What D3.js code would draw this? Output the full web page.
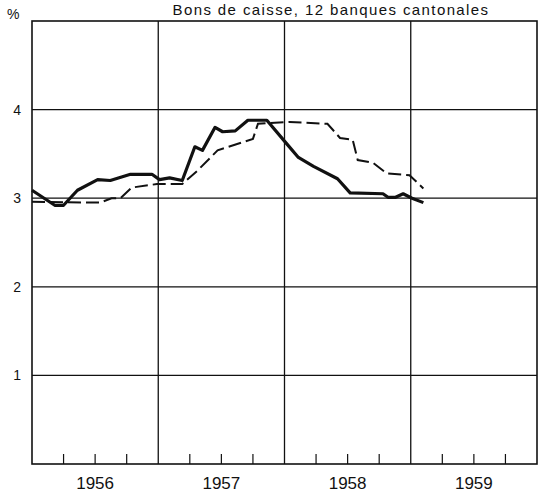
<!DOCTYPE html>
<html>
<head>
<meta charset="utf-8">
<script src="https://cdn.jsdelivr.net/npm/d3@7"></script>
<style>
  body { margin: 0; background: #fff; }
  text { font-family: "Liberation Sans", Arial, sans-serif; fill: #111; }
</style>
</head>
<body>
<div id="chart"></div>
<script>
// dates as decimal years, values in %
var solidDates = [1956.00, 1956.18, 1956.25, 1956.36, 1956.52, 1956.62, 1956.78, 1956.95,
                  1957.01, 1957.09, 1957.19, 1957.29, 1957.35, 1957.45, 1957.51, 1957.61,
                  1957.71, 1957.86, 1958.02, 1958.11, 1958.23, 1958.42, 1958.52, 1958.78,
                  1958.82, 1958.88, 1958.94, 1959.01, 1959.10];
var solidValues = [3.09, 2.92, 2.92, 3.09, 3.21, 3.20, 3.27, 3.27,
                   3.21, 3.23, 3.20, 3.58, 3.54, 3.80, 3.75, 3.76,
                   3.88, 3.88, 3.61, 3.46, 3.36, 3.22, 3.06, 3.05,
                   3.01, 3.01, 3.05, 3.00, 2.95];

var dashedDates = [1956.00, 1956.54, 1956.63, 1956.70, 1956.79, 1956.99, 1957.19, 1957.31,
                   1957.47, 1957.75, 1957.79, 1957.89, 1958.04, 1958.34, 1958.44, 1958.54,
                   1958.58, 1958.70, 1958.81, 1958.99, 1959.10];
var dashedValues = [2.96, 2.95, 3.00, 3.00, 3.12, 3.16, 3.16, 3.31,
                    3.54, 3.67, 3.84, 3.85, 3.86, 3.84, 3.68, 3.66,
                    3.43, 3.40, 3.28, 3.26, 3.11];

var years = [1956, 1957, 1958, 1959];
var yTicks = [1, 2, 3, 4];
var title = "Bons de caisse, 12 banques cantonales";

var W = 538, H = 492;
var margin = {left: 32, right: 537, top: 21, bottom: 464};

var svg = d3.select("#chart").append("svg")
    .attr("width", W)
    .attr("height", H);

var x = d3.scaleLinear().domain([1956, 1960]).range([margin.left, margin.right]);
var y = d3.scaleLinear().domain([0, 5]).range([margin.bottom, margin.top]);

// horizontal grid
svg.append("g")
  .selectAll("line")
  .data(yTicks)
  .enter().append("line")
    .attr("x1", margin.left).attr("x2", margin.right)
    .attr("y1", function(d) { return y(d) }).attr("y2", function(d) { return y(d) })
    .attr("stroke", "#111").attr("stroke-width", 1.2);

// vertical year lines
svg.append("g")
  .selectAll("line")
  .data(years.slice(1))
  .enter().append("line")
    .attr("x1", function(d) { return x(d) }).attr("x2", function(d) { return x(d) })
    .attr("y1", margin.top).attr("y2", margin.bottom)
    .attr("stroke", "#111").attr("stroke-width", 1.3);

// quarter ticks on bottom axis
var quarters = [];
years.forEach(function(yr) { [0.25, 0.5, 0.75].forEach(function(q) { quarters.push(yr + q) }) });
svg.append("g")
  .selectAll("line")
  .data(quarters)
  .enter().append("line")
    .attr("x1", function(d) { return x(d) }).attr("x2", function(d) { return x(d) })
    .attr("y1", margin.bottom).attr("y2", margin.bottom - 10)
    .attr("stroke", "#111").attr("stroke-width", 1.2);

// frame
svg.append("rect")
    .attr("x", margin.left).attr("y", margin.top)
    .attr("width", margin.right - margin.left).attr("height", margin.bottom - margin.top)
    .attr("fill", "none").attr("stroke", "#111").attr("stroke-width", 1.6);

// y labels
svg.append("g")
  .selectAll("text")
  .data(yTicks)
  .enter().append("text")
    .attr("x", 21)
    .attr("y", function(d) { return y(d) + 5 })
    .attr("text-anchor", "end")
    .style("font-size", "14px")
    .text(function(d) { return d });

svg.append("text")
    .attr("x", 7).attr("y", 19)
    .style("font-size", "14px")
    .text("%");

// year labels
svg.append("g")
  .selectAll("text")
  .data(years)
  .enter().append("text")
    .attr("x", function(d) { return x(d + 0.5) })
    .attr("y", 489)
    .attr("text-anchor", "middle")
    .style("font-size", "17px")
    .text(function(d) { return d });

// title
svg.append("text")
    .attr("x", 331).attr("y", 14.5)
    .attr("text-anchor", "middle")
    .style("font-size", "15px")
    .style("letter-spacing", "1.4px")
    .text(title);

var line = d3.line()
    .x(function(d) { return x(d[0]) })
    .y(function(d) { return y(d[1]) });

svg.append("path")
    .datum(dashedDates.map(function(d, i) { return [d, dashedValues[i]] }))
    .attr("d", line)
    .attr("fill", "none")
    .attr("stroke", "#111")
    .attr("stroke-width", 2)
    .attr("stroke-dasharray", "13,5");

svg.append("path")
    .datum(solidDates.map(function(d, i) { return [d, solidValues[i]] }))
    .attr("d", line)
    .attr("fill", "none")
    .attr("stroke", "#111")
    .attr("stroke-width", 3.2)
    .attr("stroke-linejoin", "round");
</script>
</body>
</html>
